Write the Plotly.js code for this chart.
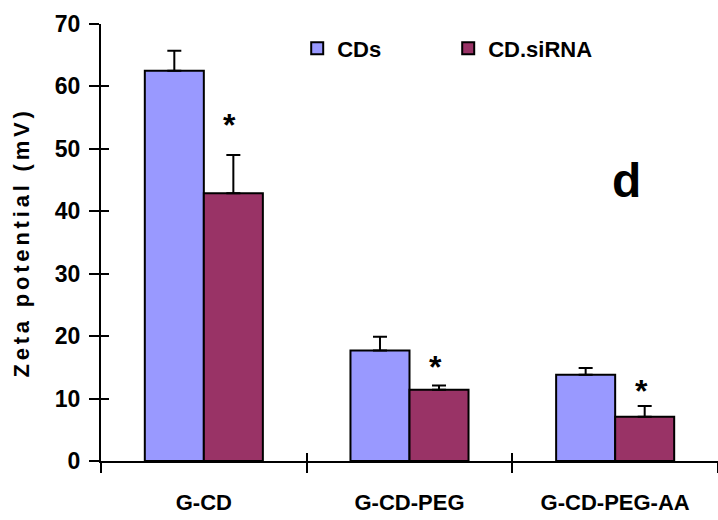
<!DOCTYPE html>
<html>
<head>
<meta charset="utf-8">
<script src="https://cdn.plot.ly/plotly-3.0.1.min.js"></script>
<style>
  html, body { margin: 0; padding: 0; background: #fff; }
  #chart { width: 718px; height: 520px; }
  .ytitle { letter-spacing: 3.8px; }
</style>
</head>
<body>
<div id="chart"></div>
<script>
// ---- data ----
const categories = ["G-CD", "G-CD-PEG", "G-CD-PEG-AA"];
const seriesNames = ["CDs", "CD.siRNA"];
const cdsValues = [62.5, 17.7, 13.8];
const cdsErrors = [3.2, 2.2, 1.1];
const sirnaValues = [42.9, 11.4, 7.1];
const sirnaErrors = [6.1, 0.7, 1.7];
const sigMarks = ["*", "*", "*"];
const sigY = [54.4, 15.7, 11.9];
const yTickVals = [0, 10, 20, 30, 40, 50, 60, 70];
const panelLabel = "d";
const yTitle = "Zeta potential (mV)";

const FONT = "Arial, 'Liberation Sans', sans-serif";
const zeros = categories.map(() => 0);

const traces = [
  {
    type: "bar", name: seriesNames[0], x: categories, y: cdsValues,
    marker: { color: "#9999FF", line: { color: "#000", width: 2 } },
    error_y: { type: "data", symmetric: false, array: cdsErrors, arrayminus: zeros,
               color: "#000", thickness: 2, width: 7 },
    hoverinfo: "skip"
  },
  {
    type: "bar", name: seriesNames[1], x: categories, y: sirnaValues,
    marker: { color: "#993366", line: { color: "#000", width: 2 } },
    error_y: { type: "data", symmetric: false, array: sirnaErrors, arrayminus: zeros,
               color: "#000", thickness: 2, width: 7 },
    hoverinfo: "skip"
  },
  {
    // invisible helper so the overlay axes (inner tick halves) are drawn
    type: "scatter", mode: "markers", x: categories, y: cdsValues,
    xaxis: "x2", yaxis: "y2", marker: { opacity: 0 }, showlegend: false, hoverinfo: "skip"
  }
];

const annotations = sigMarks.map((m, i) => ({
  x: categories[i], y: sigY[i], xref: "x", yref: "y",
  text: "<b>" + m + "</b>", showarrow: false, xshift: 26, yshift: -4,
  xanchor: "center", yanchor: "middle",
  font: { family: FONT, size: 32, color: "#000" }
}));
annotations.push({
  x: 0.8525, y: 0.643, xref: "paper", yref: "paper",
  text: "<b>" + panelLabel + "</b>", showarrow: false,
  xanchor: "center", yanchor: "middle",
  font: { family: FONT, size: 48, color: "#000" }
});

const layout = {
  width: 718, height: 520,
  margin: { l: 101, r: 0, t: 24, b: 59, pad: 0 },
  paper_bgcolor: "#fff", plot_bgcolor: "#fff",
  font: { family: FONT, color: "#000", weight: "bold" },
  barmode: "group", bargap: 0.426, bargroupgap: 0,
  showlegend: true,
  legend: {
    orientation: "h", x: 0.318, xanchor: "left", y: 0.944, yanchor: "middle",
    font: { family: FONT, size: 22, color: "#000", weight: "bold" },
    entrywidth: 106, entrywidthmode: "pixels",
    bgcolor: "rgba(0,0,0,0)", borderwidth: 0, traceorder: "normal"
  },
  xaxis: {
    type: "category", categoryorder: "array", categoryarray: categories,
    range: [-0.5, 2.5], tickson: "boundaries",
    ticks: "outside", ticklen: 10, tickwidth: 2, tickcolor: "#000",
    showline: true, linecolor: "#000", linewidth: 2,
    showgrid: false, zeroline: false, fixedrange: true,
    tickfont: { family: FONT, size: 22, color: "#000", weight: "bold" },
    ticklabelstandoff: 21
  },
  yaxis: {
    range: [0, 70], tickvals: yTickVals, ticktext: yTickVals.map(String),
    ticks: "outside", ticklen: 10, tickwidth: 2, tickcolor: "#000",
    showline: true, linecolor: "#000", linewidth: 2,
    showgrid: false, zeroline: false, fixedrange: true,
    tickfont: { family: FONT, size: 23, color: "#000", weight: "bold" },
    ticklabelstandoff: 4,
    title: { text: yTitle, font: { family: FONT, size: 22, color: "#000", weight: "bold" }, standoff: 19 }
  },
  xaxis2: {
    overlaying: "x", anchor: "y2", type: "category", categoryorder: "array", categoryarray: categories,
    range: [-0.5, 2.5], tickson: "boundaries",
    ticks: "inside", ticklen: 8, tickwidth: 2, tickcolor: "#000",
    showticklabels: false, showline: false, showgrid: false, zeroline: false, fixedrange: true
  },
  yaxis2: {
    overlaying: "y", anchor: "x2", range: [0, 70], tickvals: yTickVals,
    ticks: "inside", ticklen: 8, tickwidth: 2, tickcolor: "#000",
    showticklabels: false, showline: false, showgrid: false, zeroline: false, fixedrange: true
  },
  annotations: annotations
};

Plotly.newPlot("chart", traces, layout, { displayModeBar: false, staticPlot: true });
</script>
</body>
</html>
